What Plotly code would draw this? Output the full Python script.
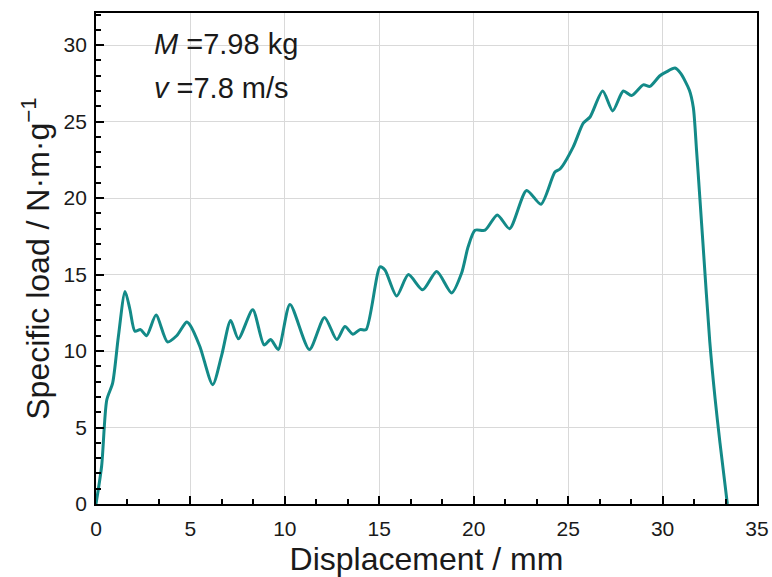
import plotly.graph_objects as go

displacement = [0.0, 0.3, 0.57, 0.88, 1.18, 1.54, 1.8, 2.06, 2.36, 2.68, 3.18, 3.78, 4.27, 4.8, 4.98,
                5.5, 6.18, 6.65, 7.13, 7.54, 8.3, 8.9, 9.25, 9.65, 10.27, 11.3, 12.1, 12.75, 13.18,
                13.6, 13.98, 14.3, 15.04, 15.3, 15.92, 16.54, 17.3, 18.04, 18.83, 19.36, 19.7, 20.07,
                20.6, 21.25, 21.9, 22.8, 23.56, 24.3, 24.57, 25.27, 25.8, 26.16, 26.83, 27.36, 27.92,
                28.36, 28.98, 29.33, 29.86, 30.2, 30.66, 30.96, 31.42, 31.63, 31.8, 31.98, 32.14,
                32.5, 32.78, 33.04, 33.43]
specific_load = [0.0, 2.5, 6.8, 7.9, 10.9, 13.9, 12.7, 11.3, 11.4, 11.0, 12.35, 10.6, 11.0, 11.9, 11.7,
                 10.3, 7.8, 9.7, 12.0, 10.8, 12.7, 10.4, 10.75, 10.1, 13.05, 10.1, 12.2, 10.75, 11.6,
                 11.1, 11.4, 11.4, 15.5, 15.3, 13.6, 15.0, 14.0, 15.2, 13.8, 15.1, 16.8, 17.9,
                 17.9, 18.9, 18.0, 20.5, 19.6, 21.7, 21.9, 23.35, 24.9, 25.3, 27.0, 25.7, 27.0,
                 26.7, 27.4, 27.3, 28.0, 28.25, 28.5, 28.15, 27.05, 25.9, 23.1, 19.9, 17.0,
                 10.6, 6.9, 4.0, 0.0]

x_ticks = [0, 5, 10, 15, 20, 25, 30, 35]
y_ticks = [0, 5, 10, 15, 20, 25, 30]

line_color = "#138a88"
font_family = "Liberation Sans, Arial, sans-serif"
text_color = "#1a1a1a"

fig = go.Figure()
fig.add_trace(go.Scatter(
    x=displacement, y=specific_load, mode="lines",
    line=dict(color=line_color, width=3, shape="spline", smoothing=0.7),
    showlegend=False, hoverinfo="skip"))

axis_common = dict(
    showline=True, linecolor="black", linewidth=1.8, mirror=True,
    ticks="inside", ticklen=8, tickwidth=1.8, tickcolor="black",
    showgrid=True, gridcolor="#d9d9d9", gridwidth=1,
    zeroline=False, automargin=False,
    tickfont=dict(family=font_family, size=21, color=text_color),
)

fig.update_layout(
    width=772, height=577,
    margin=dict(l=96, r=15, t=13, b=73),
    paper_bgcolor="white", plot_bgcolor="white",
    font=dict(family=font_family),
    xaxis=dict(
        range=[0, 35], tickvals=x_ticks, ticklabelstandoff=5,
        minor=dict(ticks="inside", ticklen=5, tickwidth=1.5, tickcolor="black",
                   tick0=0, dtick=5/3, showgrid=False),
        title=dict(text="Displacement / mm", font=dict(family=font_family, size=32, color=text_color)),
        **axis_common),
    yaxis=dict(
        range=[0, 32.1], tickvals=y_ticks, ticklabelstandoff=3,
        minor=dict(ticks="inside", ticklen=5, tickwidth=1.5, tickcolor="black",
                   tick0=0, dtick=1, showgrid=False),
        title=dict(text="Specific load / N·m·g<sup>−1</sup>",
                   font=dict(family=font_family, size=32, color=text_color), standoff=4),
        **axis_common),
)

fig.add_annotation(x=0.085, y=0.937, xref="paper", yref="paper", xanchor="left", yanchor="middle",
                   text="<i>M</i> =7.98 kg", showarrow=False,
                   font=dict(family=font_family, size=29, color=text_color))
fig.add_annotation(x=0.085, y=0.847, xref="paper", yref="paper", xanchor="left", yanchor="middle",
                   text="<i>v</i> =7.8 m/s", showarrow=False,
                   font=dict(family=font_family, size=29, color=text_color))

fig.write_html("out.html")
